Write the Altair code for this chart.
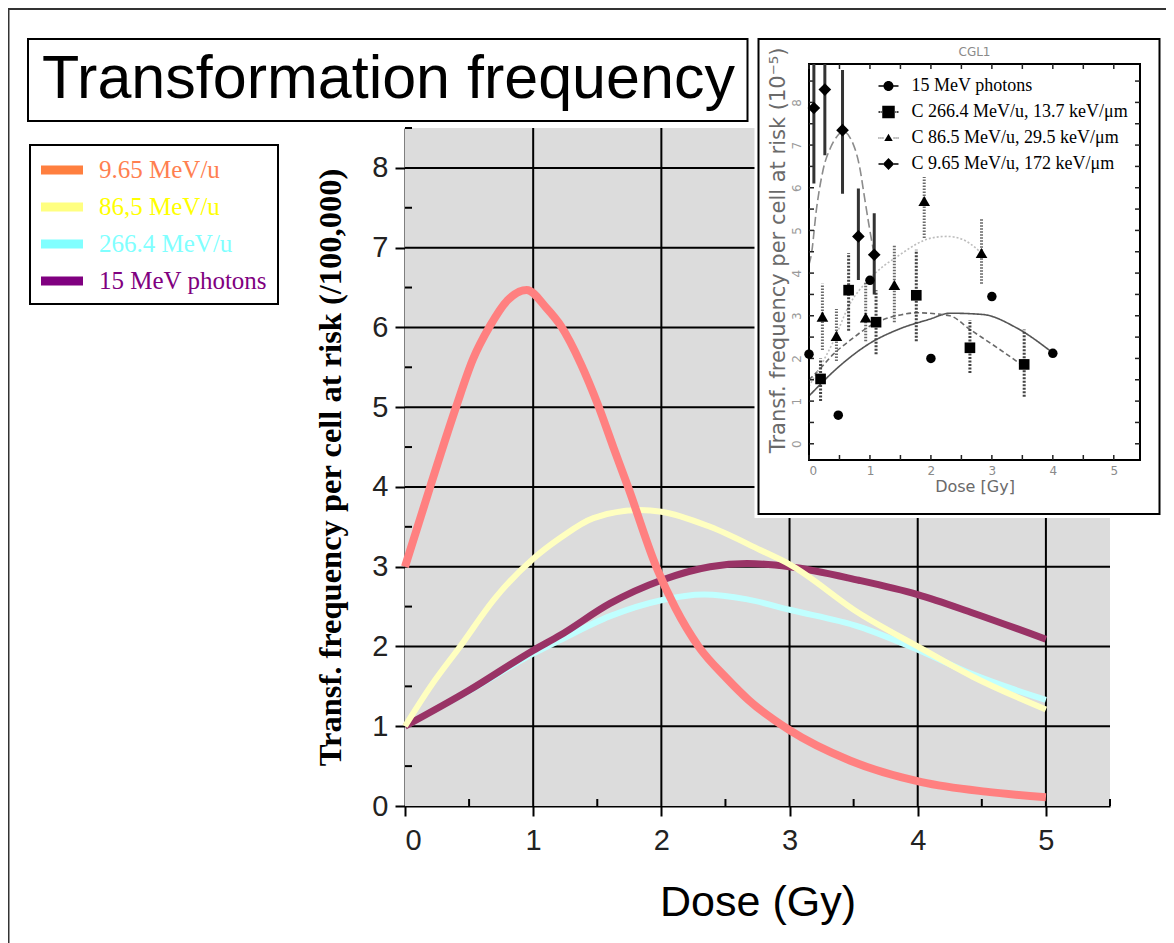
import altair as alt
import pandas as pd

# ---------------- main chart data ----------------
TITLE = "Transformation frequency"
SERIES = ["9.65 MeV/u", "86,5 MeV/u", "266.4 MeV/u", "15 MeV photons"]
LINE_COLORS = ["#ff8080", "#ffffc0", "#c0ffff", "#993366"]
LEGEND_COLORS = ["#ff7f3f", "#ffff80", "#80ffff", "#800080"]
LABEL_COLORS = ["#ff7f50", "#ffff00", "#80ffff", "#800080"]
LINE_WIDTHS = [8, 6, 6, 7]
DRAW_ORDER = ["266.4 MeV/u", "15 MeV photons", "86,5 MeV/u", "9.65 MeV/u"]

DOSE_965 = [0.0, 0.2, 0.4, 0.53, 0.66, 0.8, 0.95, 1.1, 1.22, 1.37, 1.51, 1.625, 1.74,
            1.96, 2.11, 2.29, 2.51, 2.68, 3.0, 3.47, 4.03, 4.53, 5.0]
FREQ_965 = [3.0, 4.02, 5.01, 5.6, 6.01, 6.34, 6.47, 6.25, 6.01, 5.55, 5.01, 4.5, 4.0,
            3.0, 2.48, 2.0, 1.6, 1.33, 0.95, 0.57, 0.3, 0.18, 0.11]
DOSE_865 = [0.0, 0.2, 0.43, 0.7, 1.0, 1.21, 1.47, 1.83, 2.0, 2.38, 2.77, 3.0, 3.54, 4.0, 4.43, 5.0]
FREQ_865 = [1.0, 1.5, 2.0, 2.6, 3.1, 3.36, 3.61, 3.71, 3.69, 3.5, 3.21, 3.03, 2.42, 2.0, 1.62, 1.21]
DOSE_2664 = [0.0, 0.5, 1.0, 1.21, 1.6, 2.0, 2.33, 2.67, 3.0, 3.54, 4.0, 4.43, 5.0]
FREQ_2664 = [1.0, 1.44, 1.91, 2.08, 2.38, 2.58, 2.65, 2.59, 2.46, 2.25, 1.96, 1.65, 1.33]
DOSE_PH = [0.0, 0.5, 1.0, 1.21, 1.6, 2.0, 2.38, 2.67, 3.0, 3.54, 4.0, 4.43, 5.0]
FREQ_PH = [1.0, 1.45, 1.95, 2.14, 2.54, 2.83, 3.0, 3.04, 3.0, 2.83, 2.65, 2.42, 2.09]

X_DOMAIN = [0, 5.5]
Y_DOMAIN = [0, 8.5]
X_TICKS = [0, 1, 2, 3, 4, 5]
Y_TICKS = [0, 1, 2, 3, 4, 5, 6, 7, 8]
X_MINOR = [0.5, 1.5, 2.5, 3.5, 4.5, 5.5]
Y_MINOR = [0.5, 1.5, 2.5, 3.5, 4.5, 5.5, 6.5, 7.5, 8.5]

# ---------------- inset data ----------------
INSET_TITLE = "CGL1"
INSET_SERIES = ["15 MeV photons", "C 266.4 MeV/u, 13.7 keV/μm",
                "C 86.5 MeV/u, 29.5 keV/μm", "C 9.65 MeV/u, 172 keV/μm"]
INSET_SHAPES = ["circle", "square", "triangle-up", "diamond"]
INSET_SIZES = [90, 160, 85, 120]
# legend glyphs: the marker with short line pieces on either side
INSET_LEGEND_SHAPES = [
    "M-2,-0.15H-0.9V0.15H-2Z M0.9,-0.15H2V0.15H0.9Z "
    "M-1,0A1,1 0 1,1 1,0A1,1 0 1,1 -1,0Z",
    "M-2,-0.15H-1.6V0.15H-2Z M-1.45,-0.15H-1.3V0.15H-1.45Z "
    "M1.3,-0.15H1.45V0.15H1.3Z M1.6,-0.15H2V0.15H1.6Z "
    "M-1.25,-1.25H1.25V1.25H-1.25Z",
    "M-2,-0.12H-1.82V0.12H-2Z M-1.6,-0.12H-1.42V0.12H-1.6Z M-1.2,-0.12H-1.02V0.12H-1.2Z "
    "M1.02,-0.12H1.2V0.12H1.02Z M1.42,-0.12H1.6V0.12H1.42Z M1.82,-0.12H2V0.12H1.82Z "
    "M0,-0.85L0.85,0.6H-0.85Z",
    "M-2,-0.15H-1.1V0.15H-2Z M1.1,-0.15H2V0.15H1.1Z "
    "M0,-1.2L1.15,0L0,1.2L-1.15,0Z",
]
INSET_X_DOMAIN = [0, 5.43]
INSET_Y_DOMAIN = [-0.38, 8.9]
INSET_X_TICKS = [0, 0.5, 1, 1.5, 2, 2.5, 3, 3.5, 4, 4.5, 5]
INSET_Y_TICKS = [0, 0.5, 1, 1.5, 2, 2.5, 3, 3.5, 4, 4.5, 5, 5.5, 6, 6.5, 7, 7.5, 8, 8.5]

PH_DOSE = [0.0, 0.48, 1.0, 2.0, 3.0, 4.0]
PH_FREQ = [2.1, 0.67, 3.83, 2.0, 3.45, 2.12]

C266_DOSE = [0.19, 0.65, 1.1, 1.76, 2.64, 3.53]
C266_FREQ = [1.52, 3.6, 2.85, 3.48, 2.25, 1.86]
C266_LO = [1.0, 2.65, 2.1, 2.4, 1.66, 1.1]
C266_HI = [2.0, 4.47, 3.6, 4.55, 2.9, 2.68]

C865_DOSE = [0.22, 0.45, 0.93, 1.4, 1.89, 2.83]
C865_FREQ = [2.98, 2.53, 2.96, 3.72, 5.69, 4.47]
C865_LO = [2.2, 1.94, 2.4, 2.85, 4.82, 3.75]
C865_HI = [3.75, 3.16, 3.8, 4.66, 6.25, 5.26]

C965_DOSE = [0.08, 0.26, 0.55, 0.81, 1.07]
C965_FREQ = [7.87, 8.3, 7.35, 4.86, 4.43]
C965_LO = [6.1, 6.76, 5.86, 3.84, 3.5]
C965_HI = [8.9, 8.9, 8.76, 5.98, 5.4]

FIT_PH_DOSE = [0.0, 0.5, 0.97, 1.5, 1.98, 2.31, 2.85, 3.4, 4.0]
FIT_PH_FREQ = [1.12, 1.82, 2.33, 2.7, 2.92, 3.06, 3.03, 2.72, 2.13]
FIT_266_DOSE = [0.0, 0.17, 0.4, 0.66, 1.1, 1.5, 1.76, 2.31, 2.64, 3.13, 3.48]
FIT_266_FREQ = [1.5, 1.74, 2.1, 2.41, 2.84, 3.02, 3.07, 3.0, 2.68, 2.21, 1.86]
FIT_865_DOSE = [0.0, 0.2, 0.4, 0.66, 0.99, 1.49, 2.0, 2.26, 2.5, 2.83]
FIT_865_FREQ = [1.35, 1.85, 2.4, 3.25, 3.86, 4.43, 4.82, 4.86, 4.8, 4.47]
FIT_965_DOSE = [0.0, 0.04, 0.12, 0.23, 0.36, 0.5, 0.55, 0.72, 0.83, 0.91, 0.99, 1.07]
FIT_965_FREQ = [4.2, 4.45, 5.47, 6.41, 6.96, 7.27, 7.33, 7.04, 6.49, 5.78, 5.07, 4.43]

FIT_COLORS = ["#555555", "#6a6a6a", "#bdbdbd", "#8c8c8c"]
FIT_DASHES = [[1, 0], [5, 3], [2, 2], [9, 4]]
ERR_COLORS = ["#444444", "#444444", "#6a6a6a", "#333333"]
ERR_DASHES = [[1, 0], [2, 1.5], [1.5, 1.5], [1, 0]]

# ---------------- layout (pixels, relative to main plot origin) ----------------
W, H = 705, 678
PAD = {"left": 397, "top": 120, "right": 56, "bottom": 137}
INSET_X_RANGE = [404, 735]
INSET_Y_RANGE = [332, -64]

one = pd.DataFrame({"k": [0]})

# ---------------- main group ----------------
main_df = pd.concat([
    pd.DataFrame({"series": SERIES[0], "dose": DOSE_965, "freq": FREQ_965}),
    pd.DataFrame({"series": SERIES[1], "dose": DOSE_865, "freq": FREQ_865}),
    pd.DataFrame({"series": SERIES[2], "dose": DOSE_2664, "freq": FREQ_2664}),
    pd.DataFrame({"series": SERIES[3], "dose": DOSE_PH, "freq": FREQ_PH}),
], ignore_index=True)

axis_common = dict(
    grid=False, domainColor="black", domainWidth=2, tickColor="black", tickWidth=2,
    tickSize=10, labelFont="Liberation Sans", labelFontSize=29, labelColor="#222",
    format="d",
)
x_main = alt.X("dose:Q", scale=alt.Scale(domain=X_DOMAIN, nice=False, zero=False),
               axis=alt.Axis(values=X_TICKS, labelPadding=10, title="Dose (Gy)",
                             titleFont="Liberation Sans", titleFontSize=43,
                             titleFontWeight="normal", titlePadding=26, titleColor="black",
                             **axis_common))
y_main = alt.Y("freq:Q", scale=alt.Scale(domain=Y_DOMAIN, nice=False, zero=False),
               axis=alt.Axis(values=Y_TICKS, labelPadding=7,
                             title="Transf. frequency per cell at risk (/100,000)",
                             titleFont="Liberation Serif", titleFontSize=32.5,
                             titleFontWeight="bold", titlePadding=24, titleColor="black",
                             **axis_common))
stroke_main = alt.Stroke("series:N", scale=alt.Scale(domain=SERIES, range=LINE_COLORS), legend=None)

plot_bg = alt.Chart(one).mark_rect(color="#dcdcdc").encode(
    x=alt.datum(X_DOMAIN[0]), x2=alt.datum(X_DOMAIN[1]),
    y=alt.datum(Y_DOMAIN[0]), y2=alt.datum(Y_DOMAIN[1]),
)
grid_v = alt.Chart(pd.DataFrame({"dose": X_TICKS[1:]})).mark_rule(color="black", strokeWidth=2).encode(
    x=alt.X("dose:Q"), y=alt.datum(Y_DOMAIN[0]), y2=alt.datum(Y_DOMAIN[1])
)
grid_h = alt.Chart(pd.DataFrame({"freq": Y_TICKS[1:]})).mark_rule(color="black", strokeWidth=2).encode(
    y=alt.Y("freq:Q"), x=alt.datum(X_DOMAIN[0]), x2=alt.datum(X_DOMAIN[1])
)

line_layers = []
for s in DRAW_ORDER:
    w = LINE_WIDTHS[SERIES.index(s)]
    line_layers.append(
        alt.Chart(main_df[main_df["series"] == s]).mark_line(
            strokeWidth=w, interpolate="monotone", strokeCap="butt", strokeJoin="round"
        ).encode(x=x_main, y=y_main, stroke=stroke_main)
    )

minor_x = alt.Chart(pd.DataFrame({"dose": X_MINOR})).mark_tick(
    orient="vertical", size=7, thickness=2, color="black", yOffset=-3.5, opacity=1
).encode(x=alt.X("dose:Q"), y=alt.datum(0))
minor_y = alt.Chart(pd.DataFrame({"freq": Y_MINOR})).mark_tick(
    orient="horizontal", size=7, thickness=2, color="black", xOffset=3.5, opacity=1
).encode(y=alt.Y("freq:Q"), x=alt.datum(0))

label_color_expr = "".join(
    f"datum.label == '{s}' ? '{c}' : " for s, c in zip(SERIES, LABEL_COLORS)
) + "'black'"

legend_main = alt.Chart(pd.DataFrame({"series": SERIES})).mark_point(
    filled=True, opacity=0
).encode(
    fill=alt.Fill("series:N", scale=alt.Scale(domain=SERIES, range=LEGEND_COLORS),
                  legend=alt.Legend(
                      title=None, orient="none", legendX=-375, legendY=17,
                      symbolType="M-1.4,-0.3L1.4,-0.3L1.4,0.3L-1.4,0.3Z",
                      symbolSize=900, symbolStrokeWidth=0, symbolOffset=7,
                      labelFont="Liberation Serif", labelFontSize=25, labelLimit=400,
                      labelColor={"expr": label_color_expr},
                      labelOffset=22, rowPadding=9, padding=10,
                      strokeColor="black",
                  ))
)

main_group = alt.layer(plot_bg, grid_v, grid_h, *line_layers, minor_x, minor_y, legend_main)

# ---------------- decorations ----------------
outer_frame = alt.Chart(one).mark_rect(filled=False, color="#333333", strokeWidth=2).encode(
    x=alt.value(-396.5), x2=alt.value(780), y=alt.value(-119), y2=alt.value(830)
)
title_box = alt.Chart(one).mark_rect(fill="white", stroke="black", strokeWidth=2).encode(
    x=alt.value(-377), x2=alt.value(342.5), y=alt.value(-89), y2=alt.value(-7)
)
title_text = alt.Chart(one).mark_text(
    font="Liberation Sans", fontSize=61, align="center", baseline="alphabetic", color="black"
).encode(x=alt.value(-16.5), y=alt.value(-30), text=alt.value(TITLE))

# ---------------- inset group ----------------
inset_white = alt.Chart(one).mark_rect(fill="white", stroke="white", strokeWidth=8).encode(
    x=alt.value(353.5), x2=alt.value(754.5), y=alt.value(-89), y2=alt.value(386)
)
inset_box = alt.Chart(one).mark_rect(fill="white", stroke="black", strokeWidth=2).encode(
    x=alt.value(353.5), x2=alt.value(754.5), y=alt.value(-89), y2=alt.value(386)
)

ix_scale = alt.Scale(domain=INSET_X_DOMAIN, range=INSET_X_RANGE, nice=False, zero=False)
iy_scale = alt.Scale(domain=INSET_Y_DOMAIN, range=INSET_Y_RANGE, nice=False, zero=False)

inset_x = alt.X("dose:Q", scale=ix_scale, axis=alt.Axis(
    orient="bottom", offset=INSET_Y_RANGE[0] - H, values=INSET_X_TICKS, format="d",
    labelExpr="datum.value % 1 == 0 ? datum.label : ''",
    grid=False, domain=False, ticks=False,
    labelFont="DejaVu Sans", labelFontSize=12, labelColor="#8a8a8a", labelPadding=5,
    title="Dose [Gy]", titleFont="DejaVu Sans", titleFontSize=16, titleFontWeight="normal",
    titleColor="#6a6a6a", titlePadding=2, zindex=2,
))
inset_y = alt.Y("freq:Q", scale=iy_scale, axis=alt.Axis(
    orient="left", offset=-INSET_X_RANGE[0], values=INSET_Y_TICKS, format="d",
    labelExpr="datum.value % 1 == 0 ? datum.label : ''",
    grid=False, domain=False, ticks=False,
    labelFont="DejaVu Sans", labelFontSize=12, labelColor="#9a9a9a", labelPadding=6,
    labelAngle=270, labelAlign="center", labelBaseline="bottom",
    title="Transf. frequency per cell at risk (10⁻⁵)", titleFont="DejaVu Sans",
    titleFontSize=21, titleFontWeight="normal", titleColor="#6a6a6a", titlePadding=2,
    titleY=122, zindex=2,
))

inset_frame = alt.Chart(one).mark_rect(filled=False, color="black", strokeWidth=2).encode(
    x=alt.datum(INSET_X_DOMAIN[0]), x2=alt.datum(INSET_X_DOMAIN[1]),
    y=alt.datum(INSET_Y_DOMAIN[0]), y2=alt.datum(INSET_Y_DOMAIN[1]),
)

# inward ticks on all four sides of the inset frame
ticks_bottom = alt.Chart(pd.DataFrame({"dose": INSET_X_TICKS})).mark_tick(
    orient="vertical", size=5, thickness=1.5, color="#222", yOffset=-2.5, opacity=1
).encode(x=alt.X("dose:Q"), y=alt.datum(INSET_Y_DOMAIN[0]))
ticks_top = alt.Chart(pd.DataFrame({"dose": INSET_X_TICKS})).mark_tick(
    orient="vertical", size=5, thickness=1.5, color="#222", yOffset=2.5, opacity=1
).encode(x=alt.X("dose:Q"), y=alt.datum(INSET_Y_DOMAIN[1]))
ticks_left = alt.Chart(pd.DataFrame({"freq": INSET_Y_TICKS})).mark_tick(
    orient="horizontal", size=5, thickness=1.5, color="#222", xOffset=2.5, opacity=1
).encode(y=alt.Y("freq:Q"), x=alt.datum(INSET_X_DOMAIN[0]))
ticks_right = alt.Chart(pd.DataFrame({"freq": INSET_Y_TICKS})).mark_tick(
    orient="horizontal", size=5, thickness=1.5, color="#222", xOffset=-2.5, opacity=1
).encode(y=alt.Y("freq:Q"), x=alt.datum(INSET_X_DOMAIN[1]))

fits = [
    (FIT_PH_DOSE, FIT_PH_FREQ), (FIT_266_DOSE, FIT_266_FREQ),
    (FIT_865_DOSE, FIT_865_FREQ), (FIT_965_DOSE, FIT_965_FREQ),
]
fit_layers = []
for i, (d, f) in enumerate(fits):
    fit_layers.append(
        alt.Chart(pd.DataFrame({"dose": d, "freq": f})).mark_line(
            color=FIT_COLORS[i], strokeDash=FIT_DASHES[i], strokeWidth=1.6, interpolate="monotone"
        ).encode(x=inset_x, y=inset_y)
    )

errs = [
    (C266_DOSE, C266_LO, C266_HI, 1), (C865_DOSE, C865_LO, C865_HI, 2),
    (C965_DOSE, C965_LO, C965_HI, 3),
]
err_layers = []
for d, lo, hi, i in errs:
    err_layers.append(
        alt.Chart(pd.DataFrame({"dose": d, "lo": lo, "hi": hi})).mark_rule(
            color=ERR_COLORS[i], strokeDash=ERR_DASHES[i], strokeWidth=3
        ).encode(x=alt.X("dose:Q"), y=alt.Y("lo:Q"), y2="hi:Q")
    )

pts_df = pd.concat([
    pd.DataFrame({"series": INSET_SERIES[0], "dose": PH_DOSE, "freq": PH_FREQ}),
    pd.DataFrame({"series": INSET_SERIES[1], "dose": C266_DOSE, "freq": C266_FREQ}),
    pd.DataFrame({"series": INSET_SERIES[2], "dose": C865_DOSE, "freq": C865_FREQ}),
    pd.DataFrame({"series": INSET_SERIES[3], "dose": C965_DOSE, "freq": C965_FREQ}),
], ignore_index=True)

points = alt.Chart(pts_df).mark_point(filled=True, color="black", opacity=1).encode(
    x=alt.X("dose:Q"), y=alt.Y("freq:Q"),
    shape=alt.Shape("series:N", scale=alt.Scale(domain=INSET_SERIES, range=INSET_SHAPES),
                    legend=None),
    size=alt.Size("series:N", scale=alt.Scale(domain=INSET_SERIES, range=INSET_SIZES), legend=None),
)

inset_legend = alt.Chart(pd.DataFrame({"iseries": INSET_SERIES})).mark_point(
    filled=True, opacity=0, color="black"
).encode(
    shape=alt.Shape("iseries:N", scale=alt.Scale(domain=INSET_SERIES, range=INSET_LEGEND_SHAPES),
                    legend=alt.Legend(
                        title=None, orient="none", legendX=474.5, legendY=-51, padding=0,
                        symbolSize=100, symbolFillColor="black", symbolStrokeWidth=0,
                        labelFont="Liberation Serif", labelFontSize=18, labelColor="black",
                        labelOffset=14, rowPadding=8, labelLimit=400, zindex=3,
                    )),
)

inset_title = alt.Chart(one).mark_text(
    font="DejaVu Sans", fontSize=12, color="#8a8a8a", align="center", baseline="middle"
).encode(x=alt.value(569.5), y=alt.value(-76), text=alt.value(INSET_TITLE))

inset_group = alt.layer(
    *fit_layers, inset_frame, ticks_bottom, ticks_top, ticks_left, ticks_right,
    *err_layers, points, inset_legend
).resolve_scale(shape="independent")

chart = alt.layer(
    main_group,
    alt.layer(outer_frame, title_box, title_text, inset_white, inset_box, inset_title),
    inset_group,
).resolve_scale(
    x="independent", y="independent", stroke="independent"
).properties(
    width=W, height=H, padding=PAD,
    autosize=alt.AutoSizeParams(type="none"),
).configure_view(
    strokeWidth=0
).configure_legend(
    strokeWidth=2
)

chart.save("out.html", embed_options={"renderer": "svg", "actions": False})
